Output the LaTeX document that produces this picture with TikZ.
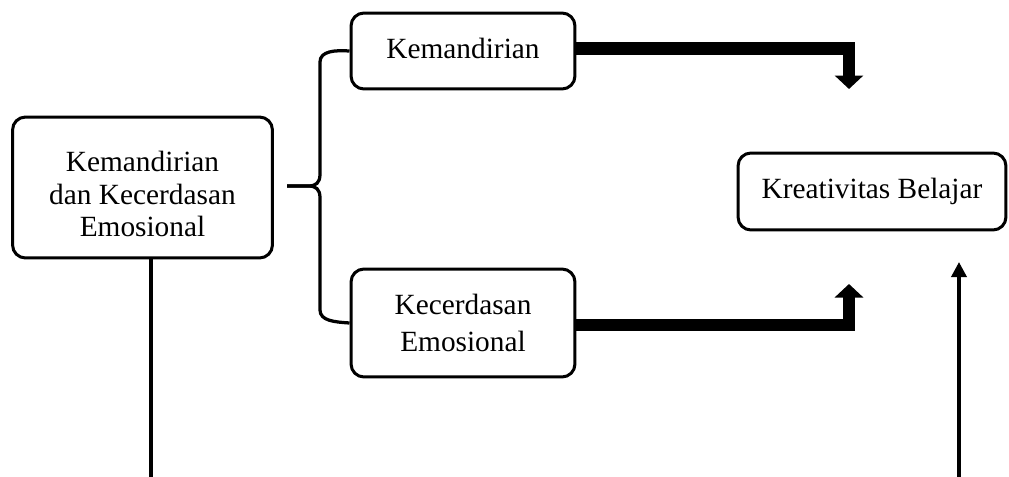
\documentclass[tikz,border=0pt]{standalone}
\usepackage{fontspec}
\setmainfont{Liberation Serif}
\usetikzlibrary{arrows.meta}
\begin{document}
\begin{tikzpicture}[x=0.02cm,y=-0.02cm,
  box/.style={draw=black,line width=0.06cm,rounded corners=0.26cm,inner sep=0pt},
  txt/.style={align=center,inner sep=0pt,font=\fontsize{16.7}{18}\selectfont},
  brace/.style={draw=black,line width=0.065cm},
  thick arrow/.style={draw=black,line width=0.25cm,line join=miter,-{Triangle[width=0.56cm,length=0.27cm]}},
  thin arrow/.style={draw=black,line width=0.07cm,-{Triangle[width=0.3cm,length=0.3cm]}}]
\useasboundingbox (0,0) rectangle (1009,477);
\node[box,minimum width=5.2cm,minimum height=2.82cm] (main) at (142.5,187.5) {};
\node[txt,font=\fontsize{16.7}{18.4}\selectfont] (maint) at ([yshift=-0.13cm]main.center) {Kemandirian\\dan Kecerdasan\\Emosional};
\node[box,minimum width=4.48cm,minimum height=1.52cm] (k1) at (463,51) {};
\node[txt] (k1t) at ([yshift=0.06cm]k1.center) {Kemandirian};
\node[box,minimum width=4.48cm,minimum height=2.16cm] (k2) at (463,323) {};
\node[txt,font=\fontsize{16.7}{21}\selectfont] (k2t) at (k2.center) {Kecerdasan\\Emosional};
\node[box,minimum width=5.36cm,minimum height=1.54cm] (kb) at (872,191.5) {};
\node[txt] (kbt) at (kb.center) {Kreativitas Belajar};
% brace
\coordinate (tip) at (287,186);
\draw[brace] (k1.west) .. controls (335,50) and (320,51) .. (320,62) -- (320,174)
  .. controls (320,183) and (316,186) .. (308,186) -- (tip);
\draw[brace] (k2.west) .. controls (335,322) and (320,321) .. (320,310) -- (320,198)
  .. controls (320,189) and (316,186) .. (308,186) -- (tip);
% thick arrows
\coordinate (a1) at (849,89);
\coordinate (a2) at (849,284);
\draw[thick arrow] (k1.east |- 0,48.5) -| (a1);
\draw[thick arrow] (k2.east |- 0,325) -| (a2);
% thin path
\coordinate (m0) at (151,257);
\coordinate (bot) at (500,482);
\coordinate (t3) at (959,262);
\draw[thin arrow] (m0) |- (bot) -| (t3);
\end{tikzpicture}
\end{document}
